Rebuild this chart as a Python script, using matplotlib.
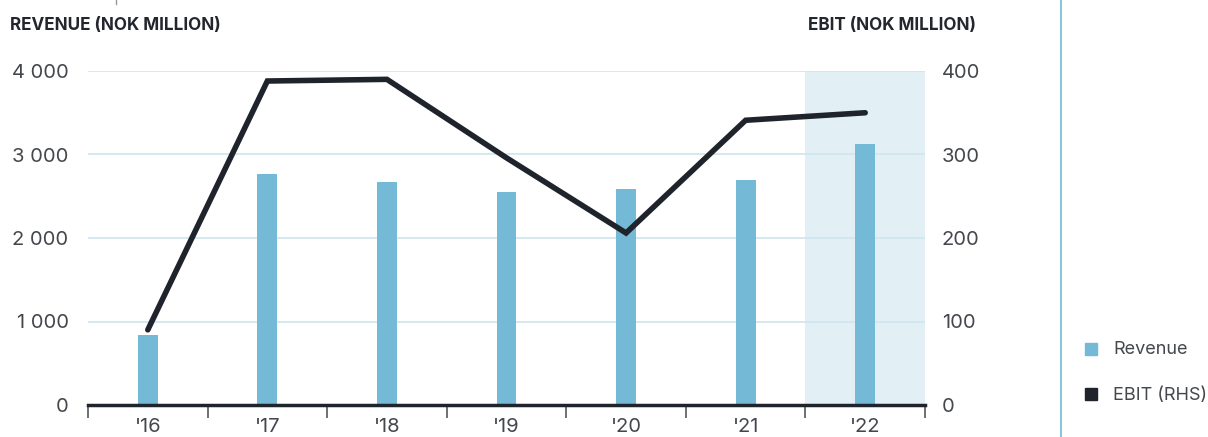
import matplotlib
matplotlib.use("Agg")
import matplotlib.pyplot as plt
from matplotlib.patches import Rectangle
from matplotlib.lines import Line2D
import numpy as np

years = ["'16", "'17", "'18", "'19", "'20", "'21", "'22"]
revenue = [838, 2766, 2671, 2551, 2587, 2695, 3126]
ebit = [90, 388, 390, 296, 206, 341, 350]

BAR = "#74b9d5"
LINE = "#1f232b"
GRID = "#cfe5ee"
SHADE = "#e2eff5"
TXT = "#44474c"

plt.rcParams["font.family"] = ["Inter", "DejaVu Sans"]

fig = plt.figure(figsize=(12.08, 4.37), dpi=100)
ax = fig.add_axes([88 / 1208, 32 / 437, 837 / 1208, 334 / 437])
ax2 = ax.twinx()

x = np.arange(len(years))

# shaded background for the latest year
ax.add_patch(Rectangle((x[-1] - 0.5, 0), 1, 4000, color=SHADE, zorder=0, lw=0))

ax.set_ylim(0, 4000)
ax.set_xlim(-0.5, len(years) - 0.5)
ax.set_yticks([0, 1000, 2000, 3000, 4000])
ax.set_yticklabels(["0", "1 000", "2 000", "3 000", "4 000"])
for v in [1000, 2000, 3000, 4000]:
    ax.axhline(v, color=GRID, lw=1.2, zorder=1)

ax.bar(x, revenue, width=0.167, color=BAR, zorder=2)

ax2.set_ylim(0, 400)
ax2.set_yticks([0, 100, 200, 300, 400])
ax2.plot(x, ebit, color=LINE, lw=4, solid_capstyle="round",
         solid_joinstyle="miter", zorder=3)

# category separators on the x axis
ax.set_xticks(x)
ax.set_xticklabels(years)
ax.set_xticks(np.arange(-0.5, len(years)), minor=True)
ax.tick_params(axis="x", which="major", length=0, pad=9, labelsize=14.5, labelcolor=TXT)
ax.tick_params(axis="x", which="minor", length=9, width=1.2, color="#55585e")
ax.tick_params(axis="y", length=0, pad=14, labelsize=14.5, labelcolor=TXT)
ax2.tick_params(axis="y", length=0, pad=12, labelsize=14.5, labelcolor=TXT)

for a in (ax, ax2):
    for s in ("top", "left", "right"):
        a.spines[s].set_visible(False)
ax2.spines["bottom"].set_visible(False)
ax.spines["bottom"].set_color(LINE)
ax.spines["bottom"].set_linewidth(2.5)
ax.spines["bottom"].set_zorder(4)

fig.text(10 / 1208, 1 - 25 / 437, "REVENUE (NOK MILLION)", fontsize=12.3,
         fontweight="bold", color="#23262d", va="center")
fig.text(976 / 1208, 1 - 25 / 437, "EBIT (NOK MILLION)", fontsize=12.3,
         fontweight="bold", color="#23262d", va="center", ha="right")

# divider between chart and legend
fig.add_artist(Line2D([1061 / 1208, 1061 / 1208], [0, 1], color="#8cc4d8", lw=1.5))
fig.add_artist(Line2D([116 / 1208, 116 / 1208], [1 - 4 / 437, 1], color="#999999", lw=1))

fig.add_artist(Rectangle((1085 / 1208, 1 - 355 / 437), 12 / 1208, 12 / 437, color=BAR))
fig.add_artist(Rectangle((1085 / 1208, 1 - 400 / 437), 12 / 1208, 12 / 437, color=LINE))
fig.text(1113 / 1208, 1 - 350 / 437, "Revenue", fontsize=13, color=TXT, va="center")
fig.text(1113 / 1208, 1 - 395 / 437, "EBIT (RHS)", fontsize=13, color=TXT, va="center")

fig.savefig("out.png", dpi=100)
plt.close(fig)
